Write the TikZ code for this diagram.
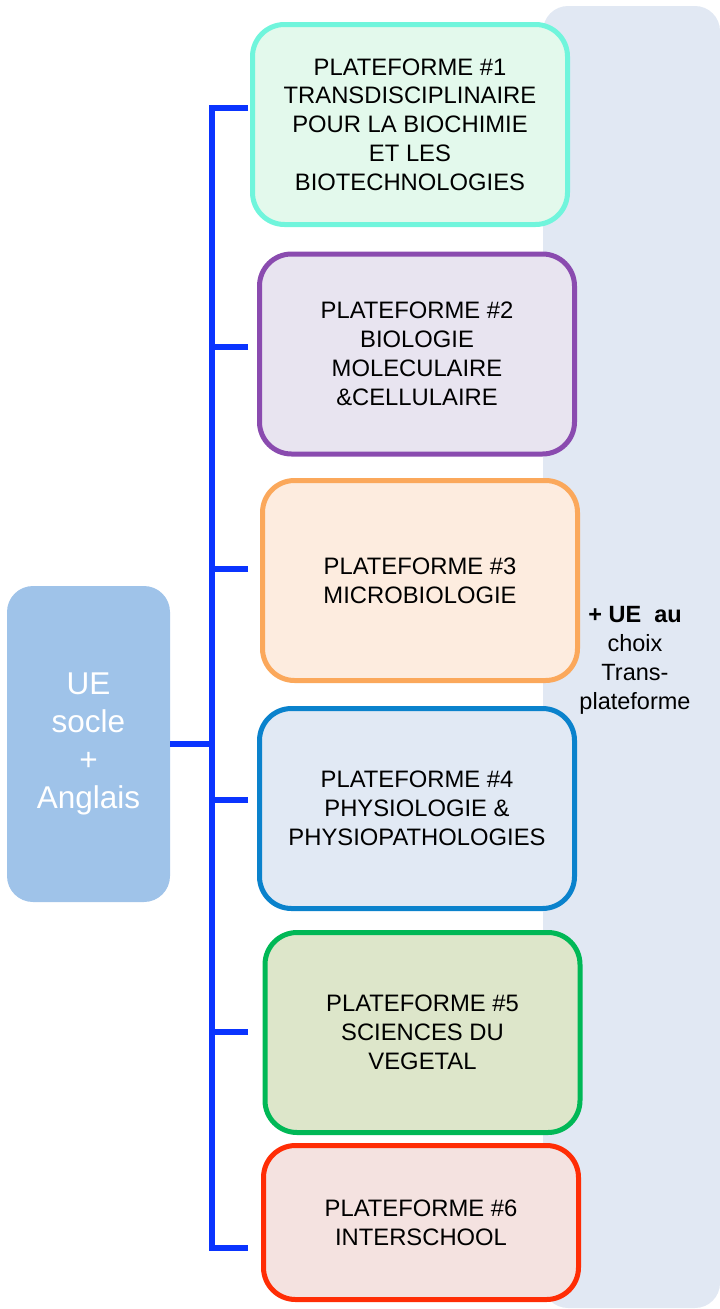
\documentclass[tikz,border=0pt]{standalone}
\usepackage{fontspec}
\setmainfont{Liberation Sans}
\usepackage{tikz}
\definecolor{panelbg}{RGB}{225,232,243}
\definecolor{busblue}{RGB}{10,52,255}
\definecolor{uefill}{RGB}{159,195,233}
\definecolor{bdA}{RGB}{112,245,220}
\definecolor{bgA}{RGB}{227,249,236}
\definecolor{bdB}{RGB}{138,75,175}
\definecolor{bgB}{RGB}{232,228,240}
\definecolor{bdC}{RGB}{251,168,91}
\definecolor{bgC}{RGB}{253,236,223}
\definecolor{bdD}{RGB}{10,130,204}
\definecolor{bgD}{RGB}{225,233,244}
\definecolor{bdE}{RGB}{0,184,86}
\definecolor{bgE}{RGB}{221,230,202}
\definecolor{bdF}{RGB}{255,45,5}
\definecolor{bgF}{RGB}{244,226,224}

\begin{document}
\begin{tikzpicture}
		[x=1pt,y=-1pt,
		every node/.style={align=center,inner sep=0pt},
		plat/.style 2 args={draw=#1,fill=#2,line width=5pt,rounded corners=32pt,minimum width=315pt,minimum height=200pt,font=\fontsize{23.8}{28.8}\selectfont},
		bus/.style={draw=busblue,line width=6pt,line join=miter}]
		\useasboundingbox (0,0) rectangle (720,1309);
		\node[fill=panelbg,rounded corners=25pt,minimum width=177pt,minimum height=1302pt] (panel) at (631.5,657) {};
		\node[fill=uefill,rounded corners=26pt,minimum width=163pt,minimum height=316pt,text=white,font=\fontsize{31.5}{38}\selectfont] (ue) at (88.5,744) {UE\\socle\\+\\Anglais};
		\node[plat={bdA}{bgA}] (p1) at (410,124.5) {PLATEFORME \#1\\TRANSDISCIPLINAIRE\\POUR LA BIOCHIMIE\\ET LES\\BIOTECHNOLOGIES};
		\node[plat={bdB}{bgB}] (p2) at (417,354) {PLATEFORME \#2\\BIOLOGIE\\MOLECULAIRE\\\&CELLULAIRE};
		\node[plat={bdC}{bgC}] (p3) at (420,580.5) {PLATEFORME \#3\\MICROBIOLOGIE};
		\node[plat={bdD}{bgD}] (p4) at (417,808.5) {PLATEFORME \#4\\PHYSIOLOGIE \&\\PHYSIOPATHOLOGIES};
		\node[plat={bdE}{bgE}] (p5) at (422.5,1032.5) {PLATEFORME \#5\\SCIENCES DU\\VEGETAL};
		\node[plat={bdF}{bgF},minimum height=154pt] (p6) at (421,1222.5) {PLATEFORME \#6\\INTERSCHOOL};
		\node[font=\fontsize{23.5}{29}\selectfont] (choix) at (635,660) {\textbf{+ UE\ \ au}\\choix\\Trans-\\plateforme};
		
		\coordinate (j1) at (248,108);
		\coordinate (j2) at (248,347);
		\coordinate (j3) at (248,569);
		\coordinate (j4) at (248,800);
		\coordinate (j5) at (248,1032);
		\coordinate (j6) at (248,1248);
		\coordinate (spine) at (212,744);
		
		\draw[bus] (j1) -- (j1 -| spine) -- (j6 -| spine) -- (j6);
		\foreach \i in {2,...,5}
			\draw[bus] (j\i) -- (j\i -| spine);
		\draw[bus] (ue.east) -- (spine);
		\end{tikzpicture}
\end{document}
